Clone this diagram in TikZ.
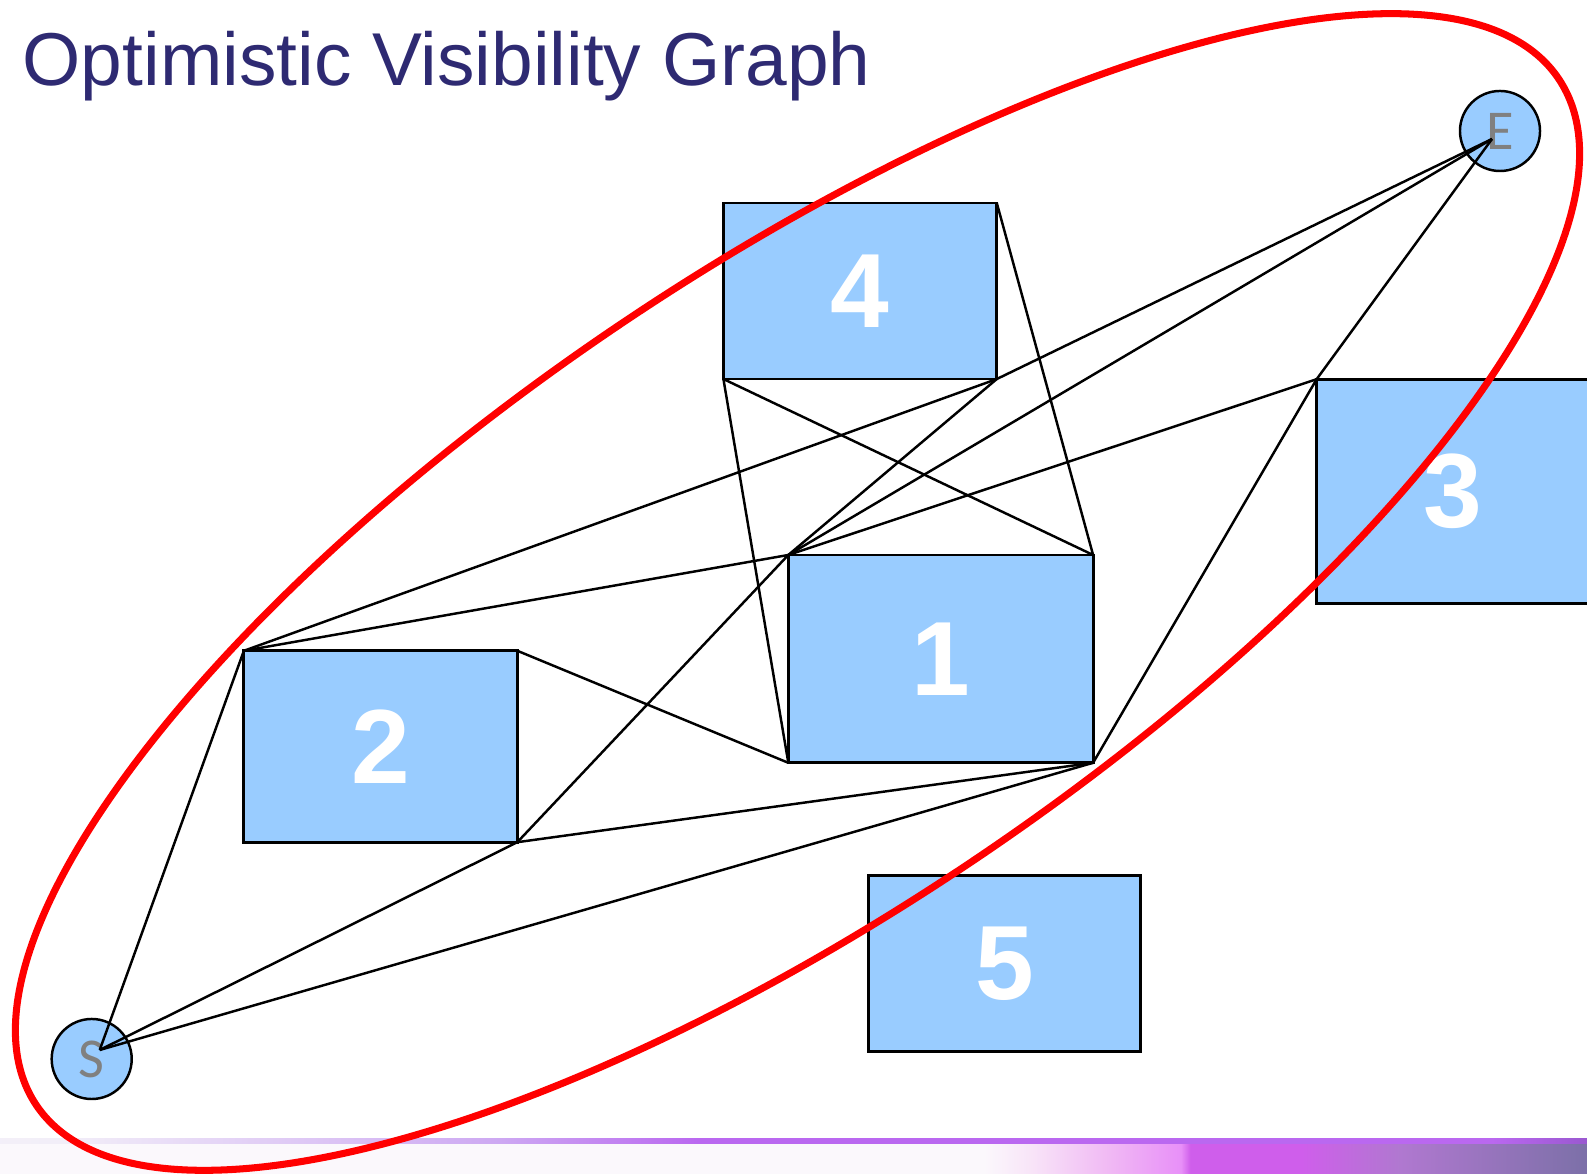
\documentclass[tikz,border=0pt]{standalone}
\usepackage{fontspec}
\setmainfont{Liberation Sans}
\newfontfamily\markFont{Carlito}
\usepackage{xcolor}
\definecolor{titleNavy}{HTML}{2E2A72}
\definecolor{boxBlue}{HTML}{99CCFF}
\definecolor{markGray}{HTML}{808080}
\definecolor{ovalRed}{HTML}{FF0000}
\definecolor{barPale}{HTML}{F2EEF8}
\definecolor{barLav}{HTML}{CDA8F2}
\definecolor{barViolet}{HTML}{BA68F0}
\definecolor{barDeep}{HTML}{9A58D0}
\definecolor{bandWhite}{HTML}{FBF8FC}
\definecolor{bandBlush}{HTML}{F8E4F8}
\definecolor{bandPink}{HTML}{F0B8F4}
\definecolor{bandOrchid}{HTML}{E890F8}
\definecolor{bandMagenta}{HTML}{CF5EEB}
\definecolor{bandPlum}{HTML}{B078D0}
\definecolor{bandSlate}{HTML}{7C70A8}
\usepackage{tikz}
\usetikzlibrary{positioning, calc}

\pgfdeclarehorizontalshading{barLineShade}{100bp}{color(0bp)=(white); color(27bp)=(barPale); color(40.75bp)=(barLav); color(47bp)=(barViolet); color(72bp)=(barViolet); color(75bp)=(barDeep); color(100bp)=(barDeep)}
\pgfdeclarehorizontalshading{barBandShade}{100bp}{color(0bp)=(bandWhite); color(56bp)=(bandWhite); color(57.5bp)=(bandBlush); color(60bp)=(bandPink); color(62.2bp)=(bandOrchid); color(62.5bp)=(bandMagenta); color(66bp)=(bandMagenta); color(69.1bp)=(bandPlum); color(75bp)=(bandSlate); color(100bp)=(bandSlate)}

\begin{document}
\begin{tikzpicture}[
    x=0.01cm, y=-0.01cm,
    obstacleBox/.style={
        rectangle,
        draw=black,
        fill=boxBlue,
        line width=0.8pt,
        inner sep=0pt,
        outer sep=0pt,
        text=white,
        font=\fontsize{30}{30}\selectfont\bfseries
    },
    endPoint/.style={
        circle,
        draw=black,
        fill=boxBlue,
        line width=0.7pt,
        minimum size=0.8cm,
        inner sep=0pt,
        outer sep=0pt,
        text=markGray,
        font=\markFont\fontsize{16}{16}\selectfont
    },
    visLine/.style={
        line width=0.7pt,
        draw=black
    },
    ovalLine/.style={
        line width=2pt,
        draw=ovalRed
    }
]
\useasboundingbox (0,0) rectangle (1587,1174);

% Footer bar
\shade[shading=barBandShade] (0,1144) rectangle (1587,1174);
\shade[shading=barLineShade] (0,1139) rectangle (1587,1144);

% Title
\node[anchor=base west, text=titleNavy, font=\fontsize{21.3}{26}\selectfont, inner sep=0pt] (title) at (22,86) {Optimistic Visibility Graph};

% Obstacles
\node[obstacleBox, minimum width=2.732cm, minimum height=1.76cm] (box4) at (860.1,291) {4};
\node[obstacleBox, minimum width=3.046cm, minimum height=2.077cm] (box1) at (940.7,658.9) {1};
\node[obstacleBox, minimum width=2.733cm, minimum height=1.913cm] (box2) at (380.6,746.5) {2};
\node[obstacleBox, minimum width=2.722cm, minimum height=1.761cm] (box5) at (1004.5,963.6) {5};
\node[obstacleBox, minimum width=2.73cm, minimum height=2.24cm] (box3) at (1453.2,491.3) {3};

% Start and end
\node[endPoint] (start) at (91.7,1059) {S};
\node[endPoint] (goal) at (1500,131) {E};
\coordinate (startTip) at ($(start)+(8,-9)$);
\coordinate (goalTip) at ($(goal)+(-8,8)$);

% Edges from S
\draw[visLine] (startTip) -- (box2.north west);
\draw[visLine] (startTip) -- (box2.south east);
\draw[visLine] (startTip) -- (box1.south east);

% Edges from box 2
\draw[visLine] (box2.north west) -- (box4.south east);
\draw[visLine] (box2.north west) -- (box1.north west);
\draw[visLine] (box2.north east) -- (box1.south west);
\draw[visLine] (box2.south east) -- (box1.north west);
\draw[visLine] (box2.south east) -- (box1.south east);

% Edges from box 4
\draw[visLine] (box4.south west) -- (box1.north east);
\draw[visLine] (box4.south west) -- (box1.south west);
\draw[visLine] (box4.north east) -- (box1.north east);
\draw[visLine] (box4.south east) -- (box1.north west);
\draw[visLine] (box4.south east) -- (goalTip);

% Edges from box 1 and box 3
\draw[visLine] (box1.north west) -- (goalTip);
\draw[visLine] (box1.north west) -- (box3.north west);
\draw[visLine] (box1.south east) -- (box3.north west);
\draw[visLine] (box3.north west) -- (goalTip);

% Bounding oval
\coordinate (ovalCentre) at (797.5,592);
\draw[ovalLine, rotate around={34:(ovalCentre)}] (ovalCentre) ellipse [x radius=918, y radius=321];

\end{tikzpicture}
\end{document}
